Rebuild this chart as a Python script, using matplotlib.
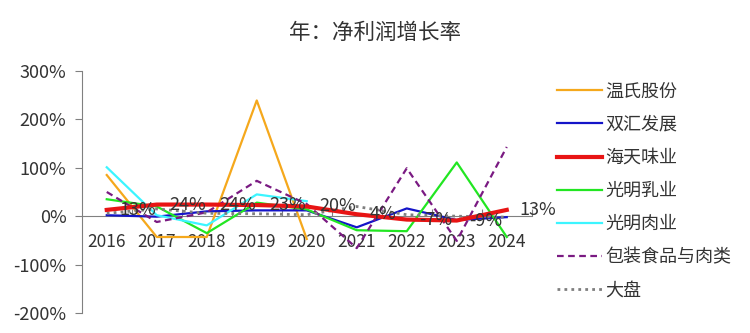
import matplotlib.pyplot as plt
import numpy as np

plt.rcParams['font.family'] = ['Noto Sans CJK SC', 'DejaVu Sans']

years = ['2016', '2017', '2018', '2019', '2020', '2021', '2022', '2023', '2024']

# net profit growth, %
wens = [85, -43, -43, 239, -47, np.nan, np.nan, np.nan, np.nan]
shuanghui = [2, -1, 10, 12, 12, -23, 16, -8, -2]
haitian = [13, 24, 24, 23, 20, 4, -7, -9, 13]
bright_dairy = [35, 20, -35, 28, 14, -29, -31, 111, -43]
bright_meat = [101, 2, -19, 45, 31, np.nan, np.nan, np.nan, np.nan]
packaged_food = [50, -12, 8, 73, 25, -66, 99, -51, 143]
market = [6, 15, 6, 5, 3, 20, 3, 0, -2]

series = [
    ('温氏股份', wens, '#F5A81C', 1.6, '-'),
    ('双汇发展', shuanghui, '#1414C8', 1.6, '-'),
    ('海天味业', haitian, '#E81414', 3.0, '-'),
    ('光明乳业', bright_dairy, '#22E622', 1.6, '-'),
    ('光明肉业', bright_meat, '#3CF5FF', 1.6, '-'),
    ('包装食品与肉类', packaged_food, '#7A1A82', 1.6, (0, (3, 2))),
    ('大盘', market, '#7F7F7F', 2.0, (0, (1, 1.5))),
]

fig = plt.figure(figsize=(7.5, 3.33), dpi=100)
ax = fig.add_axes([0.109, 0.060, 0.6, 0.727])

x = np.arange(len(years))
z = {'海天味业': 5}
for name, vals, color, lw, ls in series:
    ax.plot(x, np.array(vals, dtype=float) / 100, color=color, lw=lw, ls=ls,
            label=name, zorder=z.get(name, 3))

for i, v in enumerate(haitian):
    ax.annotate(f'{v}%', (i, v / 100), xytext=(9, 0), textcoords='offset points',
                ha='left', va='center', fontsize=13, color='#333333', zorder=6)

ax.set_xlim(-0.5, len(years) - 0.5)
ax.set_ylim(-2, 3)
ax.set_yticks(np.arange(-2, 3.01, 1))
ax.set_yticklabels([f'{int(v * 100)}%' for v in np.arange(-2, 3.01, 1)])

ax.set_xticks(x + 0.5)
ax.set_xticklabels([])
ax.set_xticks(x, minor=True)
ax.set_xticklabels(years, minor=True)
ax.tick_params(axis='x', which='major', length=5, direction='in', colors='#808080')
ax.tick_params(axis='x', which='minor', length=0, pad=12, labelsize=12.5, labelcolor='#333333')
ax.tick_params(axis='y', length=5, color='#808080', pad=6, labelsize=13, labelcolor='#333333')

for s in ['top', 'right']:
    ax.spines[s].set_visible(False)
ax.spines['bottom'].set_position(('data', 0))
ax.spines['bottom'].set_color('#808080')
ax.spines['left'].set_color('#808080')

fig.text(0.5, 0.90, '年：净利润增长率', ha='center', va='center', fontsize=15.5, color='#333333')

fig.legend(loc='upper left', bbox_to_anchor=(0.742, 0.752), frameon=False, fontsize=13,
           handlelength=2.5, handletextpad=0.2, labelspacing=0.84, labelcolor='#333333',
           borderaxespad=0, borderpad=0)

fig.savefig('out.png', dpi=100)
